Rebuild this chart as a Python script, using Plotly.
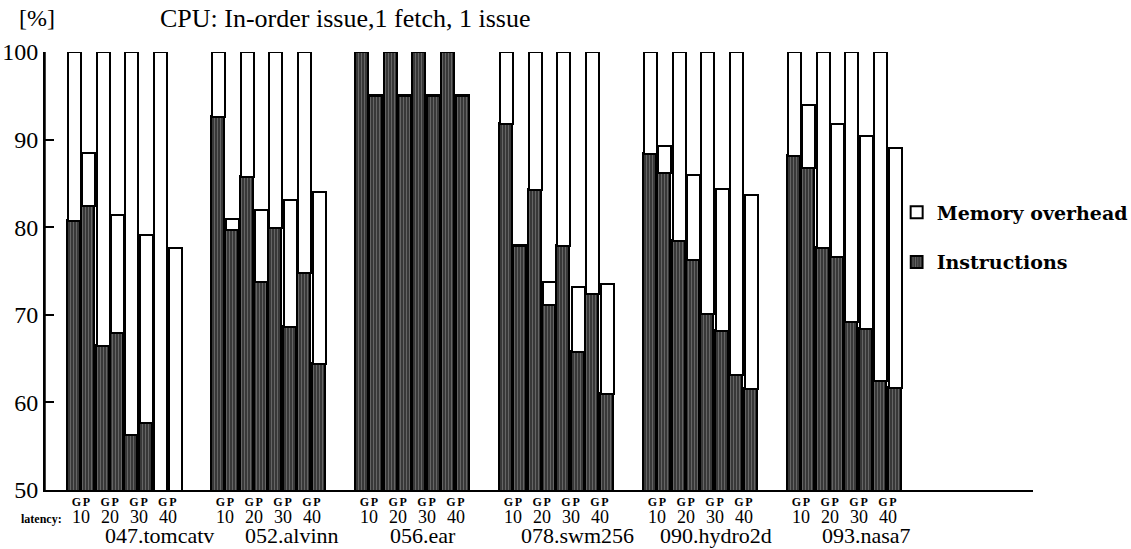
import plotly.graph_objects as go

benchmarks = ["047.tomcatv", "052.alvinn", "056.ear", "078.swm256", "090.hydro2d", "093.nasa7"]
bar_kinds = ["G", "P", "G", "P", "G", "P", "G", "P"]
latencies = ["10", "20", "30", "40"]

# Instructions part (%) per benchmark, bars G10,P10,G20,P20,G30,P30,G40,P40
instr_tomcatv = [80.7, 82.4, 66.4, 67.9, 56.3, 57.6, 48.0, 46.0]
instr_alvinn = [92.6, 79.7, 85.7, 73.8, 79.9, 68.6, 74.8, 64.4]
instr_ear = [100.0, 95.0, 100.0, 95.0, 100.0, 95.0, 100.0, 95.0]
instr_swm256 = [91.8, 77.9, 84.2, 71.1, 77.8, 65.7, 72.4, 61.0]
instr_hydro2d = [88.4, 86.2, 78.4, 76.2, 70.1, 68.2, 63.1, 61.5]
instr_nasa7 = [88.1, 86.8, 77.6, 76.6, 69.2, 68.4, 62.4, 61.6]

# Total height (instructions + memory overhead) (%)
total_tomcatv = [100.0, 88.5, 100.0, 81.4, 100.0, 79.1, 100.0, 77.6]
total_alvinn = [100.0, 80.9, 100.0, 82.0, 100.0, 83.1, 100.0, 84.0]
total_ear = [100.0, 95.0, 100.0, 95.0, 100.0, 95.0, 100.0, 95.0]
total_swm256 = [100.0, 77.9, 100.0, 73.7, 100.0, 73.2, 100.0, 73.5]
total_hydro2d = [100.0, 89.3, 100.0, 86.0, 100.0, 84.4, 100.0, 83.7]
total_nasa7 = [100.0, 93.9, 100.0, 91.8, 100.0, 90.4, 100.0, 89.0]

instr_all = [instr_tomcatv, instr_alvinn, instr_ear, instr_swm256, instr_hydro2d, instr_nasa7]
total_all = [total_tomcatv, total_alvinn, total_ear, total_swm256, total_hydro2d, total_nasa7]

# layout: horizontal offset of each benchmark name from its group centre (bar units)
NAME_OFFSETS = [2.45, 1.65, 0.75, 1.45, 1.1, 1.55]

GROUP_PITCH = 10
xs, ins, mem, tickv, tickt = [], [], [], [], []
for g, (ii, tt) in enumerate(zip(instr_all, total_all)):
    for i in range(8):
        x = g * GROUP_PITCH + i + 0.5
        xs.append(x)
        ins.append(ii[i])
        mem.append(round(tt[i] - ii[i], 2))
        tickv.append(x + (0.15 if i % 2 == 0 else -0.15))
        tickt.append("<b>%s</b>" % bar_kinds[i])

SERIF = "Liberation Serif"

fig = go.Figure()
fig.add_trace(go.Bar(
    x=xs, y=ins, name="Instructions", width=0.9, legendgroup="instr",
    marker=dict(color="#383838", line=dict(color="black", width=1.8),
                pattern=dict(shape="|", fgcolor="#b0b0b0", bgcolor="#383838", size=3, solidity=0.25)),
    legendrank=2,
))
fig.add_trace(go.Bar(
    x=xs, y=mem, name="Memory overhead", width=0.9, legendgroup="mem",
    marker=dict(color="white", line=dict(color="black", width=2)),
    legendrank=1,
))

annotations = []
for g, name in enumerate(benchmarks):
    for k, lat in enumerate(latencies):
        annotations.append(dict(x=g * GROUP_PITCH + 2 * k + 1, y=0, xref="x", yref="paper",
                                yshift=-27, yanchor="middle", showarrow=False, text=lat,
                                borderpad=0, font=dict(family=SERIF, size=18, color="black")))
    annotations.append(dict(x=g * GROUP_PITCH + 4 + NAME_OFFSETS[g], y=0, xref="x", yref="paper",
                            yshift=-59, yanchor="bottom", showarrow=False, text=name,
                            borderpad=0, font=dict(family=SERIF, size=22, color="black")))
annotations.append(dict(x=-0.3, y=0, xref="x", yref="paper", xanchor="right", yshift=-29,
                        yanchor="middle", showarrow=False, text="<b>latency:</b>",
                        borderpad=0, font=dict(family=SERIF, size=12, color="black")))
annotations.append(dict(x=-0.008, y=1, xref="paper", yref="paper", xanchor="center", yanchor="middle",
                        yshift=34, showarrow=False, text="[%]",
                        font=dict(family=SERIF, size=24, color="black")))
annotations.append(dict(x=0.114, y=1, xref="paper", yref="paper", xanchor="left", yanchor="middle",
                        yshift=34, showarrow=False, text="CPU: In-order issue,1 fetch, 1 issue",
                        font=dict(family=SERIF, size=26, color="black")))

fig.update_layout(
    width=1131, height=549,
    margin=dict(l=45, r=98, t=52, b=59, autoexpand=False),
    paper_bgcolor="white", plot_bgcolor="white",
    barmode="stack", bargap=0,
    showlegend=True,
    legend=dict(x=0.862, y=0.677, xanchor="left", yanchor="top",
                font=dict(family="DejaVu Serif", size=19, color="black", weight="bold"),
                bgcolor="rgba(0,0,0,0)", tracegroupgap=22, traceorder="grouped",
                itemwidth=30),
    annotations=annotations,
    font=dict(family=SERIF, color="black"),
    shapes=[dict(type="line", xref="paper", yref="paper", x0=0, x1=0, y0=0, y1=1,
                 line=dict(color="black", width=1.5), layer="above")],
)
fig.update_xaxes(range=[-1.53, 67.08], showgrid=False, zeroline=False, automargin=False,
                 showline=True, linecolor="black", linewidth=1.5,
                 tickmode="array", tickvals=tickv, ticktext=tickt, ticks="", tickangle=0,
                 tickfont=dict(family=SERIF, size=12, color="black"))
fig.update_yaxes(range=[50, 100], showgrid=False, zeroline=False, automargin=False,
                 showline=True, linecolor="black", linewidth=2, mirror=False,
                 layer="above traces",
                 tickmode="array", tickvals=[50, 60, 70, 80, 90, 100],
                 ticks="inside", ticklen=9, tickwidth=2, tickcolor="black",
                 tickfont=dict(family=SERIF, size=24, color="black"))

fig.write_html("out.html", config={"displayModeBar": False},
               post_script="document.body.style.margin='0';document.body.style.overflow='hidden';")
